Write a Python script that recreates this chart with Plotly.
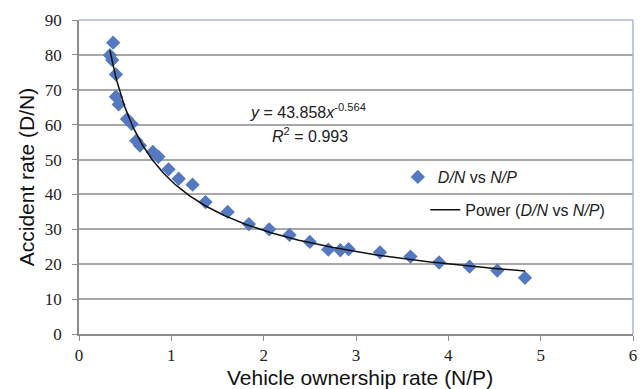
import numpy as np
import plotly.graph_objects as go

# Vehicle ownership rate (N/P) and accident rate (D/N) observations
ownership_rate = [0.335, 0.37, 0.36, 0.40, 0.40, 0.43, 0.52, 0.57, 0.62, 0.66,
                  0.80, 0.86, 0.97, 1.08, 1.23, 1.37, 1.61, 1.84, 2.06, 2.28,
                  2.50, 2.70, 2.83, 2.92, 3.26, 3.59, 3.90, 4.23, 4.53, 4.83]
accident_rate = [79.9, 83.5, 78.5, 74.4, 68.0, 65.8, 61.6, 60.2, 55.4, 54.0,
                 52.2, 50.8, 47.2, 44.5, 42.8, 37.8, 35.0, 31.5, 30.0, 28.4,
                 26.4, 24.2, 24.0, 24.3, 23.4, 22.2, 20.5, 19.3, 18.2, 16.1]

# Power trend fit y = a * x^b
fit_a = 43.858
fit_b = -0.564
fit_r2 = 0.993

x_ticks = [0, 1, 2, 3, 4, 5, 6]
y_ticks = [0, 10, 20, 30, 40, 50, 60, 70, 80, 90]

SERIES_NAME = "<i>D/N</i> vs <i>N/P</i>"
TREND_NAME = "Power (<i>D/N</i> vs <i>N/P</i>)"
X_TITLE = "Vehicle ownership rate (N/P)"
Y_TITLE = "Accident rate (D/N)"

fit_x = np.linspace(min(ownership_rate), max(ownership_rate), 300)
fit_y = fit_a * fit_x ** fit_b

fig = go.Figure()
fig.add_trace(go.Scatter(
    x=ownership_rate, y=accident_rate, mode="markers", name=SERIES_NAME,
    marker=dict(symbol="diamond", size=11, color="#5479c0"),
    legend="legend", showlegend=True,
))
fig.add_trace(go.Scatter(
    x=fit_x, y=fit_y, mode="lines", name=TREND_NAME,
    line=dict(color="#111111", width=1.5),
    legend="legend2", showlegend=True,
))

SANS = "Liberation Sans, Arial, sans-serif"
tick_font = dict(family="Liberation Serif, Times New Roman, serif", size=17, color="#222222")
title_font = dict(family=SANS, size=21, color="#111111")
legend_font = dict(family=SANS, size=16, color="#222222")
note_font = dict(family=SANS, size=16, color="#222222")

fig.update_layout(
    width=642, height=389,
    showlegend=True,
    margin=dict(l=79, r=5, t=20, b=55),
    paper_bgcolor="white", plot_bgcolor="white",
    xaxis=dict(
        range=[0, 6], tickvals=x_ticks, showgrid=False, zeroline=False,
        showline=True, linecolor="#8c8c8c", linewidth=1.5,
        ticks="outside", ticklen=5, tickcolor="#8c8c8c",
        tickfont=tick_font,
    ),
    yaxis=dict(
        range=[0, 90], tickvals=y_ticks, showgrid=True, gridcolor="#a8a8a8",
        gridwidth=1.5, zeroline=False,
        showline=True, linecolor="#8c8c8c", linewidth=1.5,
        ticks="outside", ticklen=5, tickcolor="#8c8c8c",
        tickfont=tick_font, ticklabelstandoff=7,
        title=dict(text=Y_TITLE, font=title_font, standoff=4),
    ),
    legend=dict(x=0.5755, y=0.5, xanchor="left", yanchor="middle",
                bgcolor="rgba(0,0,0,0)", font=legend_font),
    legend2=dict(x=0.625, y=0.395, xanchor="left", yanchor="middle",
                 bgcolor="rgba(0,0,0,0)", font=legend_font),
    shapes=[
        dict(type="line", xref="paper", yref="paper", x0=0, x1=1, y0=1, y1=1,
             line=dict(color="#a9b6d9", width=1.5)),
        dict(type="line", xref="paper", yref="paper", x0=1, x1=1, y0=0, y1=1,
             line=dict(color="#a9b6d9", width=1.5)),
    ],
    annotations=[
        dict(x=0.507, y=-0.137, xref="paper", yref="paper", showarrow=False,
             xanchor="center", yanchor="middle", text=X_TITLE, font=title_font),
        dict(x=2.48, y=64.0, xref="x", yref="y", showarrow=False,
             text=f"<i>y</i> = {fit_a}<i>x</i><sup>{fit_b}</sup>", font=note_font),
        dict(x=2.50, y=57.0, xref="x", yref="y", showarrow=False,
             text=f"<i>R</i><sup>2</sup> = {fit_r2}", font=note_font),
    ],
)

fig.write_html("out.html")
